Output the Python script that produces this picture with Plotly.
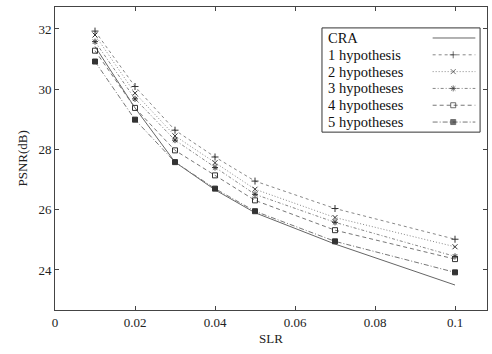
import plotly.graph_objects as go

slr = [0.01, 0.02, 0.03, 0.04, 0.05, 0.07, 0.1]
series_names = ["CRA", "1 hypothesis", "2 hypotheses", "3 hypotheses", "4 hypotheses", "5 hypotheses"]
cra = [31.42, 29.38, 27.58, 26.66, 25.9, 24.86, 23.5]
hyp1 = [31.93, 30.09, 28.64, 27.75, 26.95, 26.04, 25.02]
hyp2 = [31.8, 29.87, 28.45, 27.56, 26.68, 25.74, 24.77]
hyp3 = [31.58, 29.68, 28.31, 27.4, 26.51, 25.58, 24.45]
hyp4 = [31.28, 29.38, 27.97, 27.14, 26.31, 25.32, 24.36]
hyp5 = [30.92, 28.99, 27.58, 26.7, 25.95, 24.95, 23.92]
x_ticks = [0, 0.02, 0.04, 0.06, 0.08, 0.1]
x_tick_text = ["0", "0.02", "0.04", "0.06", "0.08", "0.1"]
y_ticks = [24, 26, 28, 30, 32]

values = [cra, hyp1, hyp2, hyp3, hyp4, hyp5]
styles = [
    dict(dash="solid", symbol=None, color="#666666"),
    dict(dash="dot", symbol="cross-thin-open", color="#888888"),
    dict(dash="1px,2px", symbol="x-thin-open", color="#888888"),
    dict(dash="3px,2px,1px,2px", symbol="asterisk-open", color="#888888"),
    dict(dash="4px,3px", symbol="square-open", color="#777777"),
    dict(dash="5px,2px,1px,2px", symbol="square", color="#777777"),
]

FONT = "Liberation Serif, DejaVu Serif, serif"
fig = go.Figure()

for name, vals, st in zip(series_names, values, styles):
    mode = "lines" if st["symbol"] is None else "lines+markers"
    fig.add_trace(go.Scatter(
        x=slr, y=vals, name=name, mode=mode, showlegend=False,
        line=dict(color=st["color"], width=1, dash=st["dash"]),
        marker=dict(symbol=st["symbol"] or "circle", size=5, color="#333333",
                    line=dict(color="#333333", width=1)),
    ))

# custom legend (text on the left, sample on the right) on an auxiliary axis pair
n = len(series_names)
for i, (name, st) in enumerate(zip(series_names, styles)):
    yy = n - 1 - i
    mode = "lines" if st["symbol"] is None else "lines+markers"
    fig.add_trace(go.Scatter(
        x=[0.7, 0.83, 0.97], y=[yy, yy, yy], xaxis="x2", yaxis="y2",
        mode=mode, showlegend=False, hoverinfo="skip",
        line=dict(color=st["color"], width=1, dash=st["dash"]),
        marker=dict(symbol=st["symbol"] or "circle", size=[0, 5, 0], color="#333333",
                    line=dict(color="#333333", width=1)),
    ))
    fig.add_annotation(x=0.025, y=yy, xref="x2", yref="y2", text=name, showarrow=False,
                       xanchor="left", yanchor="middle",
                       font=dict(family=FONT, size=14.5, color="#111111"))

fig.add_annotation(text="SLR", xref="paper", yref="paper", x=0.5, y=-28 / 303,
                   xanchor="center", yanchor="middle", showarrow=False,
                   font=dict(family=FONT, size=13))
fig.add_annotation(text="PSNR(dB)", xref="paper", yref="paper", x=-33 / 432, y=0.5,
                   xanchor="center", yanchor="middle", showarrow=False, textangle=-90,
                   font=dict(family=FONT, size=13))

fig.update_layout(
    width=492, height=354,
    margin=dict(l=55, r=5, t=7, b=44, autoexpand=False),
    paper_bgcolor="white", plot_bgcolor="white",
    font=dict(family=FONT, size=13, color="#222222"),
    xaxis=dict(range=[0, 0.108], tickvals=x_ticks, ticktext=x_tick_text, automargin=False,
               ticks="inside", ticklen=4, tickcolor="#444", mirror="ticks",
               showline=True, linecolor="#444", linewidth=1, showgrid=False, zeroline=False),
    yaxis=dict(range=[22.67, 32.73], tickvals=y_ticks, automargin=False,
               ticks="inside", ticklen=4, tickcolor="#444", mirror="ticks",
               showline=True, linecolor="#444", linewidth=1, showgrid=False, zeroline=False),
    xaxis2=dict(domain=[0.618, 0.984], range=[0, 1], visible=False, anchor="y2"),
    yaxis2=dict(domain=[0.587, 0.931], range=[-0.6, n - 0.4], visible=False, anchor="x2"),
    shapes=[dict(type="rect", xref="x2 domain", yref="y2 domain", x0=0, x1=1, y0=0, y1=1,
                 line=dict(color="#333333", width=1), fillcolor="rgba(0,0,0,0)")],
)

fig.write_html("out.html", config={"displayModeBar": False},
               post_script="document.body.style.margin='0';document.body.style.overflow='hidden';")
